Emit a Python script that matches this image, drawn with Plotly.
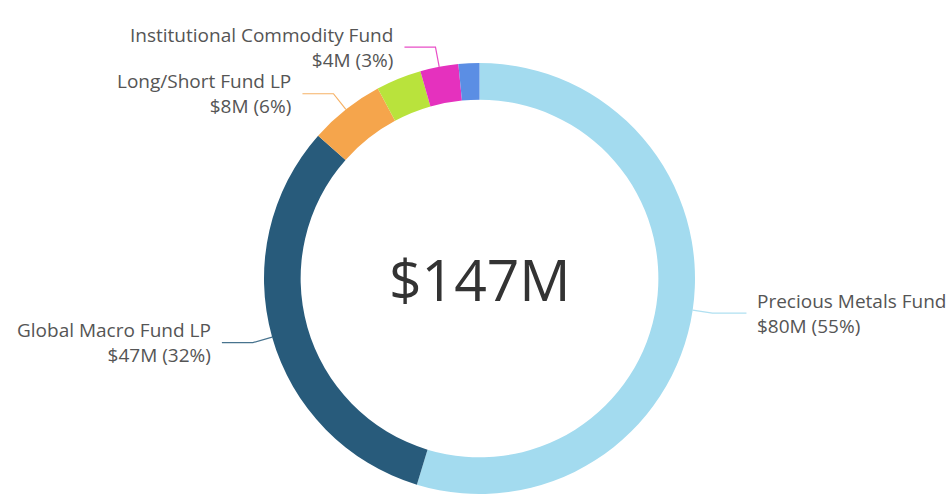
import math

import plotly.graph_objects as go

# Fund allocation, $M (two small unlabelled slices between Long/Short and the top)
funds = [
    "Precious Metals Fund",
    "Global Macro Fund LP",
    "Long/Short Fund LP",
    "Other Fund A",
    "Institutional Commodity Fund",
    "Other Fund B",
]
values = [80.4, 46.8, 8.3, 5.0, 4.2, 2.3]
colors = ["#a3dbef", "#285b7b", "#f5a54c", "#b9e33c", "#e531be", "#5b8ee4"]
show_label = [True, True, True, False, True, False]

W, H = 951, 500
CX, CY, R = 479.5, 278.5, 215.5  # donut centre / radius in px
HOLE = 0.83
total = sum(values)


def px(x, y):
    return x / W, 1 - y / H


fig = go.Figure()
fig.add_trace(go.Pie(
    labels=funds,
    values=values,
    hole=HOLE,
    sort=False,
    direction="clockwise",
    rotation=0,
    marker=dict(colors=colors, line=dict(width=0)),
    textinfo="none",
    hoverinfo="label+value+percent",
    showlegend=False,
    domain=dict(x=[(CX - R) / W, (CX + R) / W], y=[1 - (CY + R) / H, 1 - (CY - R) / H]),
))

# leader lines + outside labels
cum = 0
for name, v, c, show in zip(funds, values, colors, show_label):
    mid = (cum + v / 2) / total * 2 * math.pi
    cum += v
    if not show:
        continue
    sx, sy = CX + R * math.sin(mid), CY - R * math.cos(mid)
    ex, ey = CX + (R + 20) * math.sin(mid), CY - (R + 20) * math.cos(mid)
    right = math.sin(mid) > 0
    hx = ex + (34 if right else -31)
    path = "M {} {} L {} {} L {} {}".format(*px(sx, sy), *px(ex, ey), *px(hx, ey))
    fig.add_shape(type="path", path=path, xref="paper", yref="paper",
                  line=dict(color=c, width=1.2), opacity=0.85)
    tx, ty = px(hx + (9 if right else -9), ey)
    fig.add_annotation(
        x=tx, y=ty, xref="paper", yref="paper",
        text=f"{name}<br>${v:.0f}M ({v / total * 100:.0f}%)",
        showarrow=False,
        xanchor="left" if right else "right",
        yanchor="middle",
        align="left" if right else "right",
        font=dict(size=19, color="#555555"),
    )

cx, cy = px(CX, CY)
fig.add_annotation(
    x=cx, y=cy, xref="paper", yref="paper",
    text=f"${total:.0f}M",
    showarrow=False,
    font=dict(size=57, color="#333333"),
)

fig.update_layout(
    width=W,
    height=H,
    margin=dict(l=0, r=0, t=0, b=0),
    paper_bgcolor="white",
    plot_bgcolor="white",
    font=dict(family="Open Sans, Lato, sans-serif"),
)

fig.write_html("out.html", config={"displayModeBar": False},
               post_script="document.body.style.margin = '0';")
